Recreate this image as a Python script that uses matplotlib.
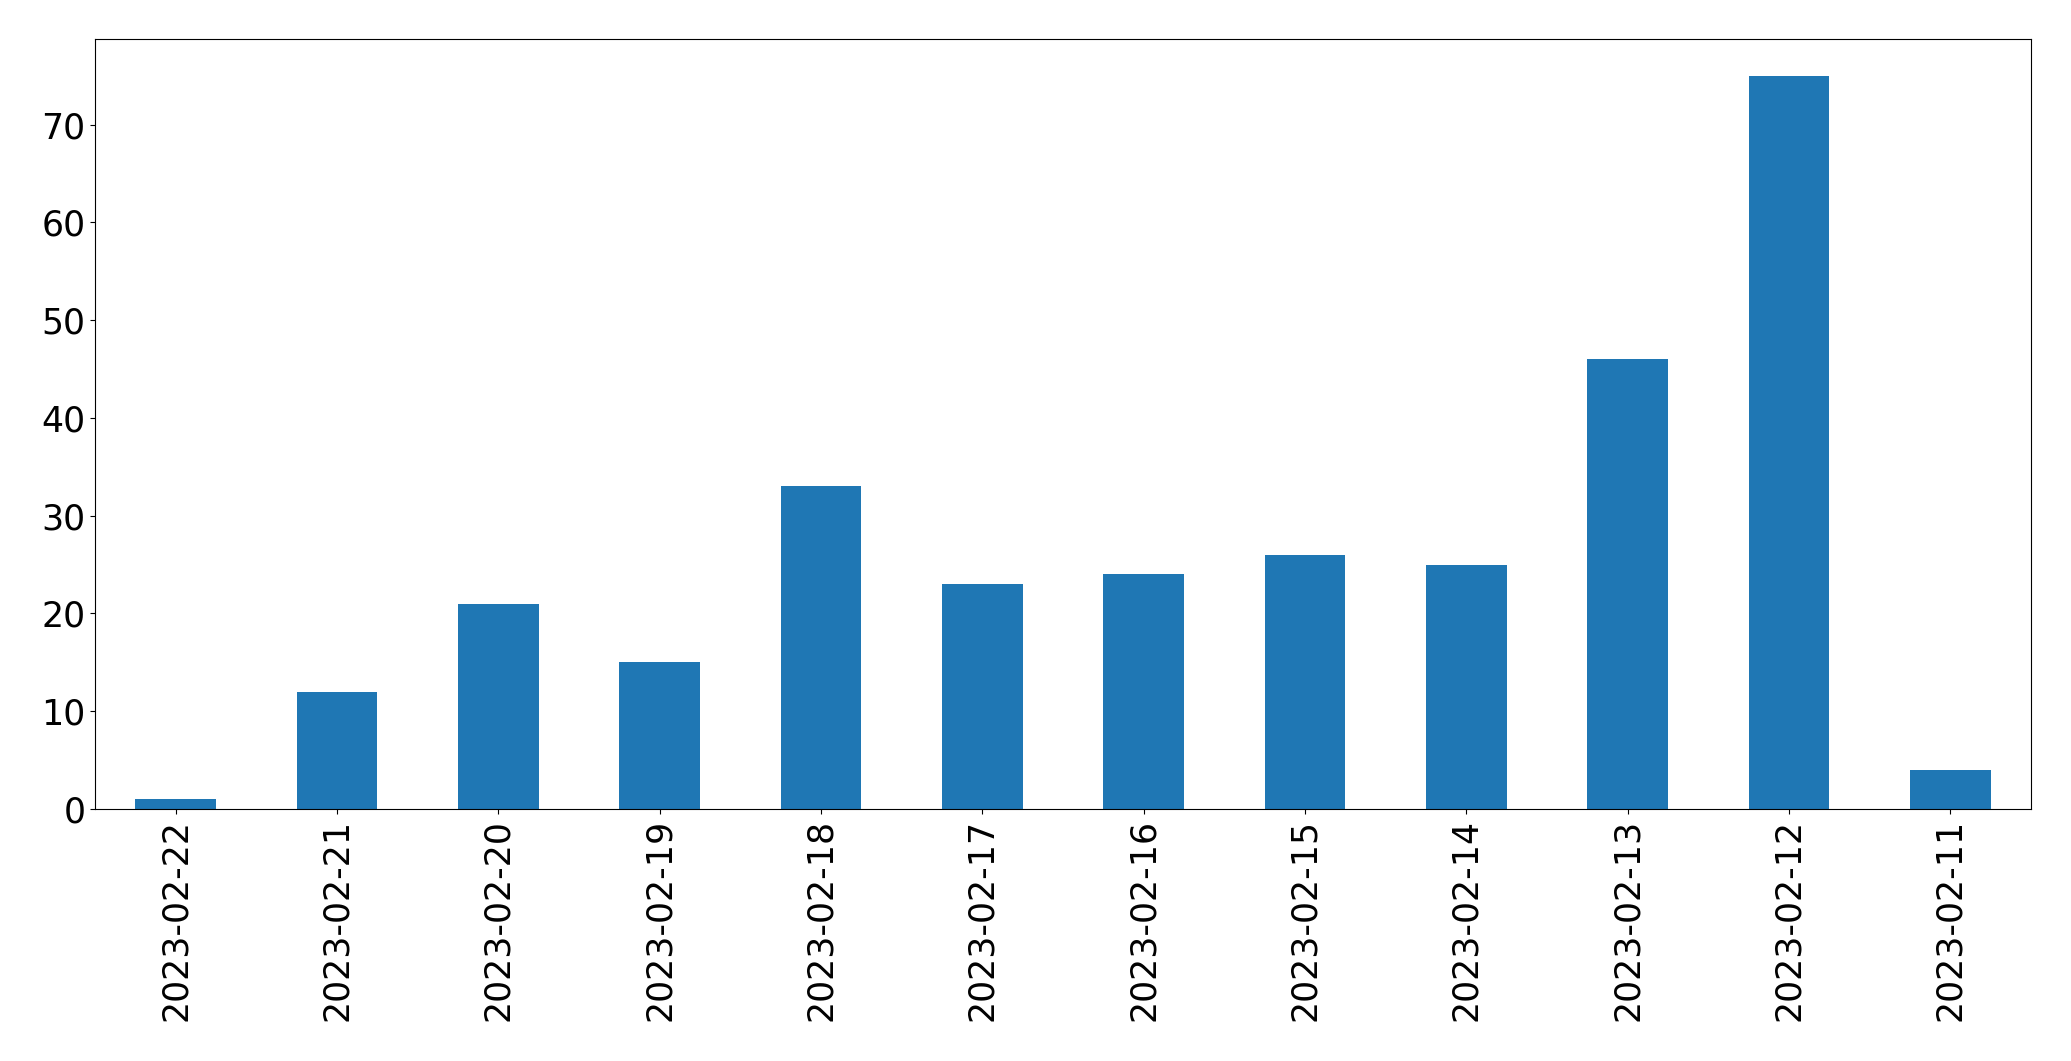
import matplotlib
matplotlib.use("Agg")
import matplotlib.pyplot as plt

dates = ["2023-02-22", "2023-02-21", "2023-02-20", "2023-02-19", "2023-02-18",
         "2023-02-17", "2023-02-16", "2023-02-15", "2023-02-14", "2023-02-13",
         "2023-02-12", "2023-02-11"]
counts = [1, 12, 21, 15, 33, 23, 24, 26, 25, 46, 75, 4]

fig = plt.figure(figsize=(20.71, 10.61), dpi=100)
ax = fig.add_axes([95/2071, 1 - 809/1061, (2031-95)/2071, (809-39)/1061])
x = list(range(len(dates)))
ax.bar(x, counts, width=0.5, color="#1f77b4")
ax.set_xlim(-0.5, len(dates) - 0.5)
ax.set_ylim(0, max(counts) * 1.05)
ax.set_xticks(x)
ax.set_xticklabels(dates, rotation=90)
ax.tick_params(labelsize=25)
fig.savefig("out.png", dpi=100)
